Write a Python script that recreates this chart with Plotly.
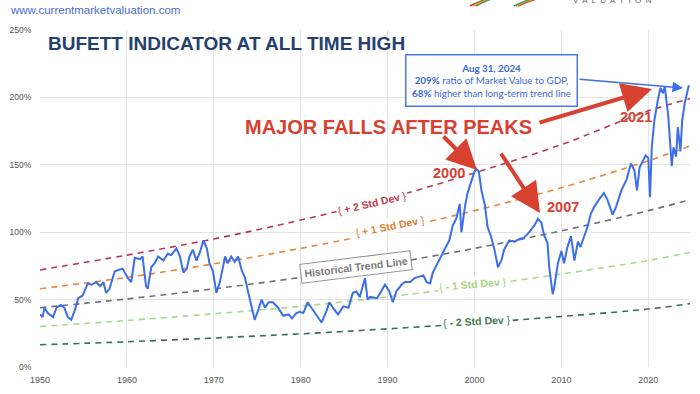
import plotly.graph_objects as go

# ---------------- data ----------------
years = [1950.0, 1950.3, 1950.5, 1950.9, 1951.5, 1951.9, 1952.4, 1952.8, 1953.2, 1953.6,
         1954.0, 1954.4, 1954.9, 1955.5, 1955.9, 1956.5, 1956.9, 1957.3, 1957.6, 1958.0,
         1958.6, 1959.2, 1959.5, 1960.1, 1960.5, 1960.9, 1961.5, 1961.8, 1962.2, 1962.4,
         1962.8, 1963.2, 1963.6, 1964.2, 1964.7, 1965.1, 1965.7, 1966.1, 1966.5, 1966.9,
         1967.2, 1967.6, 1968.0, 1968.4, 1968.8, 1969.2, 1969.5, 1969.9, 1970.3, 1970.7,
         1971.3, 1971.6, 1972.0, 1972.4, 1972.8, 1973.2, 1973.6, 1973.9, 1974.3, 1974.7,
         1975.1, 1975.5, 1975.9, 1976.3, 1976.8, 1977.4, 1978.0, 1978.6, 1979.0, 1979.5,
         1979.9, 1980.3, 1980.8, 1981.4, 1982.0, 1982.4, 1983.0, 1983.3, 1983.7, 1984.3,
         1984.9, 1985.5, 1986.0, 1986.4, 1986.8, 1987.4, 1987.7, 1988.0, 1988.8, 1989.3,
         1989.7, 1990.2, 1990.6, 1991.0, 1991.6, 1992.0, 1992.6, 1993.1, 1993.7, 1994.1,
         1994.5, 1994.9, 1995.2, 1995.8, 1996.3, 1996.7, 1997.1, 1997.5, 1997.9, 1998.3,
         1998.5, 1998.9, 1999.2, 1999.6, 2000.0, 2000.2, 2000.5, 2000.8, 2001.2, 2001.5,
         2001.9, 2002.3, 2002.7, 2003.1, 2003.4, 2004.0, 2004.6, 2005.2, 2005.7, 2006.3,
         2006.9, 2007.3, 2007.7, 2008.0, 2008.4, 2008.6, 2008.8, 2009.0, 2009.2, 2009.6,
         2010.0, 2010.3, 2010.7, 2011.1, 2011.5, 2011.9, 2012.2, 2012.6, 2013.0, 2013.4,
         2013.8, 2014.4, 2014.9, 2015.3, 2015.9, 2016.3, 2016.9, 2017.5, 2018.0, 2018.4,
         2018.7, 2019.0, 2019.4, 2019.7, 2020.0, 2020.2, 2020.4, 2020.7, 2021.1, 2021.4,
         2021.7, 2021.9, 2022.3, 2022.5, 2022.7, 2022.9, 2023.2, 2023.4, 2023.7, 2023.9,
         2024.2, 2024.67]
ratio = [39, 37, 44, 40, 37, 44, 46, 44, 37, 35,
         42, 51, 53, 62, 61, 63, 60, 63, 55, 58,
         71, 72, 73, 66, 63, 81, 80, 82, 60, 58,
         74, 77, 82, 79, 84, 83, 88, 82, 70, 73,
         82, 87, 79, 85, 94, 88, 77, 71, 55, 63,
         82, 77, 82, 78, 82, 72, 66, 57, 45, 35,
         42, 50, 44, 48, 48, 44, 38, 39, 36, 40,
         41, 40, 48, 42, 36, 33, 42, 48, 44, 39,
         45, 44, 55, 56, 52, 66, 50, 52, 51, 56,
         61, 56, 48, 56, 61, 63, 63, 66, 67, 68,
         63, 62, 70, 77, 84, 89, 94, 105, 110, 121,
         100, 119, 129, 137, 145, 147, 145, 131, 120, 104,
         97, 87, 74, 79, 87, 94, 93, 95, 96, 100,
         105, 110, 107, 98, 92, 74, 62, 54, 60, 77,
         86, 77, 89, 97, 79, 93, 89, 97, 104, 114,
         119, 125, 129, 124, 113, 119, 131, 139, 151, 146,
         131, 148, 153, 157, 155, 126, 163, 183, 198, 207,
         203, 208, 186, 166, 149, 163, 156, 178, 160, 183,
         196, 209]

band_years = [1950, 1960, 1970, 1980, 1990, 2000, 2010, 2020, 2024.8]
plus2 = [72, 83, 95, 109, 125, 144, 165, 190, 199]
plus1 = [58, 66.5, 76.5, 88, 101, 116, 133, 153, 164]
trend = [44, 50.5, 58, 66.5, 76.5, 88, 101, 116, 124]
minus1 = [30, 34.5, 39.5, 45, 52, 60, 69, 79, 85]
minus2 = [16.5, 18.7, 21.5, 24.6, 28.3, 32.5, 37.5, 43, 47]

x_ticks = [1950, 1960, 1970, 1980, 1990, 2000, 2010, 2020]
y_ticks = [0, 50, 100, 150, 200, 250]
y_tick_labels = ["0%", "50%", "100%", "150%", "200%", "250%"]

# ---------------- layout helpers (pixel -> axis coordinates) ----------------
L, R, T, B = 40, 690, 30, 367
X0, X1, Y0, Y1 = 1950, 2024.8, 0, 250


def px(x):
    return X0 + (x - L) / (R - L) * (X1 - X0)


def py(y):
    return Y0 + (B - y) / (B - T) * (Y1 - Y0)


def ppx(x):
    return (x - L) / (R - L)


def ppy(y):
    return (B - y) / (B - T)


RED = "#d8402f"
BLUE = "#3b6ee8"

fig = go.Figure()

bands = [
    (plus2, "#b83a50"),
    (plus1, "#e8883a"),
    (trend, "#6e6e7c"),
    (minus1, "#a9d98c"),
    (minus2, "#3e6e50"),
]
for vals, col in bands:
    fig.add_trace(go.Scatter(x=band_years, y=vals, mode="lines",
                             line=dict(color=col, width=1.6, dash="6px,5px", shape="spline"),
                             hoverinfo="skip", showlegend=False))

fig.add_trace(go.Scatter(x=years, y=ratio, mode="lines",
                         line=dict(color=BLUE, width=2), showlegend=False))

ann = []
# URL
ann.append(dict(xref="paper", yref="paper", x=ppx(8), y=ppy(10),
                xanchor="left", yanchor="middle", showarrow=False,
                text="www.currentmarketvaluation.com",
                font=dict(family="Liberation Sans, Arial", size=11.5, color="#4a6cd4")))
# logo fragment
ann.append(dict(xref="paper", yref="paper", x=ppx(612), y=ppy(0),
                xanchor="center", yanchor="middle", showarrow=False,
                text="V  A  L  U  A  T  I  O  N",
                font=dict(family="Liberation Sans, Arial", size=8, color="#666")))
# title
ann.append(dict(x=px(226), y=py(43), xanchor="center", yanchor="middle", showarrow=False,
                text="<b>BUFETT INDICATOR AT ALL TIME HIGH</b>",
                font=dict(family="Liberation Sans, Arial", size=19, color="#24406e")))
# info box
ann.append(dict(x=px(491), y=py(80), xanchor="center", yanchor="middle", showarrow=False,
                text="<b>Aug 31, 2024</b><br><b>209%</b> ratio of Market Value to GDP,"
                     "<br><b>68%</b> higher than long-term trend line",
                align="center", bgcolor="white", bordercolor="#4a78e8", borderwidth=1.5,
                borderpad=3, width=164, height=44,
                font=dict(family="Lato, Open Sans", size=9.8, color="#3a68d8")))
# blue arrow
ann.append(dict(x=px(683), y=py(88), ax=px(578), ay=py(79), axref="x", ayref="y",
                showarrow=True, arrowhead=2, arrowsize=1.4, arrowwidth=1.5,
                arrowcolor=BLUE, text=""))
# red headline
ann.append(dict(x=px(388), y=py(127), xanchor="center", yanchor="middle", showarrow=False,
                text="<b>MAJOR FALLS AFTER PEAKS</b>",
                font=dict(family="Liberation Sans, Arial", size=20, color=RED)))
# red arrows
for (tx, ty, hx, hy) in [(538, 123, 652, 89), (442, 135, 477, 170), (500, 152, 540, 213)]:
    ann.append(dict(x=px(hx), y=py(hy), ax=px(tx), ay=py(ty), axref="x", ayref="y",
                    showarrow=True, arrowhead=2, arrowsize=1.5, arrowwidth=4,
                    arrowcolor=RED, text=""))
# year labels
for label, cx, cy in [("2000", 449, 173), ("2007", 563, 207), ("2021", 636, 117)]:
    ann.append(dict(x=px(cx), y=py(cy), xanchor="center", yanchor="middle", showarrow=False,
                    text="<b>%s</b>" % label,
                    font=dict(family="Liberation Sans, Arial", size=14.5, color=RED)))
# band labels
band_labels = [
    ("{ <b>+ 2 Std Dev</b> }", 372, 203, -13, "#c03a4c"),
    ("{ <b>+ 1 Std Dev</b> }", 390, 226, -11, "#e08030"),
    ("{ <b>- 1 Std Dev</b> }", 473, 284, -5, "#a6d585"),
    ("{ <b>- 2 Std Dev</b> }", 477, 321, -3, "#3d7a50"),
]
for txt, cx, cy, ang, col in band_labels:
    ann.append(dict(x=px(cx), y=py(cy), xanchor="center", yanchor="middle", showarrow=False,
                    text=txt, textangle=ang, bgcolor="white", borderpad=1,
                    font=dict(family="Liberation Sans, Arial", size=10.5, color=col)))
ann.append(dict(x=px(356), y=py(267), xanchor="center", yanchor="middle", showarrow=False,
                text="<b>Historical Trend Line</b>", textangle=-7, bgcolor="white",
                bordercolor="#8a8a8a", borderwidth=1, borderpad=3,
                font=dict(family="Liberation Sans, Arial", size=10.5, color="#7a7a7a")))

# small logo swooshes at top edge
shapes = []
for (x0, x1, col) in [(470, 490, "#c0392b"), (473, 492, "#d4a93a"), (476, 494, "#4e9a5a"),
                      (518, 540, "#c0392b"), (516, 537, "#d4a93a"), (514, 534, "#4e9a5a")]:
    shapes.append(dict(type="path", xref="paper", yref="paper",
                       path="M %f,%f Q %f,%f %f,%f" % (ppx(x0), ppy(6), ppx((x0 + x1) / 2), ppy(1),
                                                       ppx(x1), ppy(-2)),
                       line=dict(color=col, width=1.5)))

fig.update_layout(
    width=700, height=394, autosize=False,
    margin=dict(l=L, r=700 - R, t=T, b=394 - B),
    paper_bgcolor="white", plot_bgcolor="white",
    showlegend=False,
    annotations=ann,
    shapes=shapes,
    xaxis=dict(range=[X0, X1], tickvals=x_ticks, showgrid=True, gridcolor="#e4e4e4",
               gridwidth=1, zeroline=False, showline=False,
               ticks="outside", ticklen=4, tickcolor="rgba(0,0,0,0)",
               tickfont=dict(family="Liberation Sans, Arial", size=9, color="#555")),
    yaxis=dict(range=[Y0, Y1], tickvals=y_ticks, ticktext=y_tick_labels, showgrid=True,
               gridcolor="#e4e4e4", gridwidth=1, zeroline=False, showline=False,
               ticks="outside", ticklen=6, tickcolor="rgba(0,0,0,0)",
               tickfont=dict(family="Liberation Sans, Arial", size=8.5, color="#555")),
)

fig.write_html("out.html", config={"displayModeBar": False},
               post_script="document.body.style.margin='0';")
